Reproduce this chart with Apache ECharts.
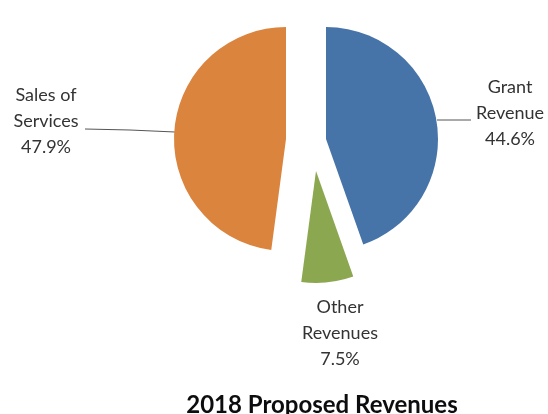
<!DOCTYPE html>
<html>
<head>
<meta charset="utf-8">
<script src="https://cdn.jsdelivr.net/npm/echarts@6/dist/echarts.min.js"></script>
<style>
  html, body { margin: 0; padding: 0; background: #fff; }
  #chart { width: 548px; height: 414px; }
</style>
</head>
<body>
<div id="chart"></div>
<script>
// Revenue shares (percent of total)
const categories = ['Grant Revenue', 'Other Revenues', 'Sales of Services'];
const labelNames = ['Grant\nRevenue', 'Other\nRevenues', 'Sales of\nServices'];
const shares = [44.6, 7.5, 47.9];
const titleText = '2018 Proposed Revenues';

const colors = ['#4673A8', '#8BA750', '#DB843E'];
// Each slice is pulled out from the pie by its own amount: one series per slice
const sliceCenters = [[326, 139], [316, 171], [286, 139]];
const labelSpots = [
  { x: 510, y: 113, line: [[437, 120], [454, 120], [471, 120]] },
  { x: 340, y: 333, line: null },
  { x: 46, y: 121, line: [[175, 132], [130, 130], [85, 129]] }
];
const RADIUS = 112;

const series = categories.map((name, k) => ({
  type: 'pie',
  center: sliceCenters[k],
  radius: RADIUS,
  startAngle: 90,
  clockwise: true,
  silent: true,
  animation: false,
  data: categories.map((n, i) => ({
    name: n,
    value: shares[i],
    itemStyle: { color: i === k ? colors[i] : 'rgba(0,0,0,0)' },
    label: {
      show: i === k,
      formatter: () => labelNames[i] + '\n' + shares[i].toFixed(1) + '%'
    },
    labelLine: { show: i === k && labelSpots[i].line !== null }
  })),
  label: {
    position: 'outside',
    fontFamily: 'Lato',
    fontSize: 18,
    lineHeight: 26,
    color: '#333333',
    align: 'center',
    overflow: 'none'
  },
  labelLine: {
    lineStyle: { color: '#555555', width: 1 }
  },
  labelLayout: (params) => {
    if (params.dataIndex !== k) return {};
    const s = labelSpots[k];
    const out = { x: s.x, y: s.y, align: 'center', verticalAlign: 'middle' };
    if (s.line) out.labelLinePoints = s.line;
    return out;
  }
}));

const chart = echarts.init(document.getElementById('chart'), null, { renderer: 'canvas' });
chart.setOption({
  backgroundColor: '#ffffff',
  title: {
    text: titleText,
    left: 317,
    textAlign: 'center',
    top: 388,
    textStyle: { fontFamily: 'Lato', fontWeight: 'bold', fontSize: 24, color: '#0d0d0d' }
  },
  series: series
});
</script>
</body>
</html>
